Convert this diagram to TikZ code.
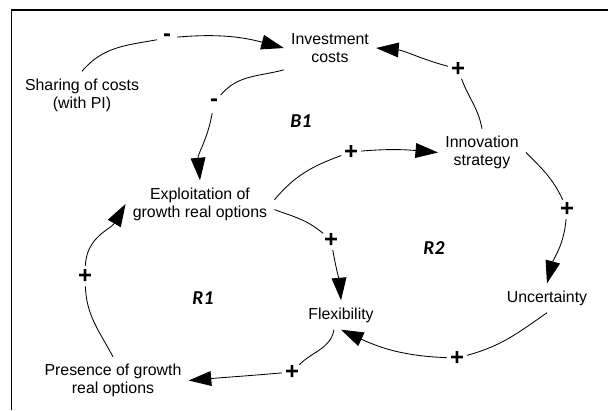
\documentclass[tikz,border=0pt]{standalone}
\usepackage{fontspec}
\setmainfont{Liberation Sans}
\newfontfamily\carlitofont{Carlito}
\usetikzlibrary{arrows.meta}
\usetikzlibrary{shapes}

\newcommand{\factorfont}{\fontsize{11.3}{12.8}\selectfont}
\newcommand{\signfont}{\fontsize{17}{18}\selectfont\bfseries}
\newcommand{\loopfont}{\fontsize{14}{15}\selectfont\carlitofont\bfseries\itshape}

\begin{document}
\begin{tikzpicture}[x = 0.025cm, y = 0.025cm]
	\tikzstyle{factorStyle} = [align = center, inner sep = 5pt, font = \factorfont]
	\tikzstyle{signStyle} = [circle, minimum size = 0.5cm, inner sep = 0pt, font = \signfont]
	\tikzstyle{loopStyle} = [font = \loopfont]
	\tikzstyle{linkStyle} = [line width = 0.6pt]
	\tikzstyle{arrowStyle} = [line width = 0.6pt, -{Triangle[length = 16pt, width = 10.5pt]}]
	\useasboundingbox (0, 0) rectangle (608, 410);
	\draw[line width = 1.4pt] (11.5, 0) -- (11.5, 400) -- (608, 400);
	% factors
	\node[factorStyle] (invest) at (330, 362) {Investment\\costs};
	\node[factorStyle] (sharing) at (82, 315) {Sharing of costs\\(with PI)};
	\node[factorStyle] (innov) at (482, 257.5) {Innovation\\strategy};
	\node[factorStyle] (exploit) at (200, 206) {Exploitation of\\growth real options};
	\node[factorStyle] (flex) at (341, 95) {Flexibility};
	\node[factorStyle] (uncert) at (547, 112) {Uncertainty};
	\node[factorStyle] (presence) at (113, 29.5) {Presence of growth\\real options};
	% polarities
	\node[signStyle] (s1) at (167, 372) {-};
	\node[signStyle] (s2) at (214, 307) {-};
	\node[signStyle] (s3) at (458, 341) {+};
	\node[signStyle] (s4) at (351, 258) {+};
	\node[signStyle] (s5) at (567, 201) {+};
	\node[signStyle] (s6) at (457, 52) {+};
	\node[signStyle] (s7) at (331, 170) {+};
	\node[signStyle] (s8) at (292, 38) {+};
	\node[signStyle] (s9) at (85, 134) {+};
	% loops
	\node[loopStyle] (B1) at (301, 289) {B1};
	\node[loopStyle] (R1) at (203, 112) {R1};
	\node[loopStyle] (R2) at (434, 162) {R2};
	% links
	\draw[linkStyle] (sharing.north) to[out = 50, in = 190] (s1);
	\draw[arrowStyle] (s1) to[out = 5, in = 165] (invest.west);
	\draw[linkStyle] (invest.south west) to[out = 195, in = 50] (s2);
	\draw[arrowStyle] (s2) to[out = 260, in = 95] (exploit.north);
	\draw[linkStyle] (innov.north) to[out = 100, in = -70] (s3);
	\draw[arrowStyle] (s3) to[out = 165, in = -5] (invest.east);
	\draw[linkStyle] ([yshift = 3pt]exploit.east) to[out = 50, in = 200] (s4);
	\draw[arrowStyle] (s4) to[out = 5, in = 175] (innov.west);
	\draw[linkStyle] (innov.east) to[out = -45, in = 115] (s5);
	\draw[arrowStyle] (s5) to[out = -95, in = 75] (uncert.north);
	\draw[linkStyle] (uncert.south) to[out = 215, in = 15] (s6);
	\draw[arrowStyle] (s6) to[out = 178, in = -25] (flex.south);
	\draw[linkStyle] ([yshift = -4pt]exploit.east) to[out = -20, in = 140] (s7);
	\draw[arrowStyle] (s7) to[out = -80, in = 95] (flex.north);
	\draw[linkStyle] ([xshift = -5pt]flex.south) to[out = -100, in = 45] (s8);
	\draw[arrowStyle] (s8) to[out = 185, in = 5] (presence.east);
	\draw[linkStyle] (presence.north) to[out = 118, in = -88] (s9);
	\draw[arrowStyle] (s9) to[out = 88, in = 240] (exploit.west);
\end{tikzpicture}
\end{document}
